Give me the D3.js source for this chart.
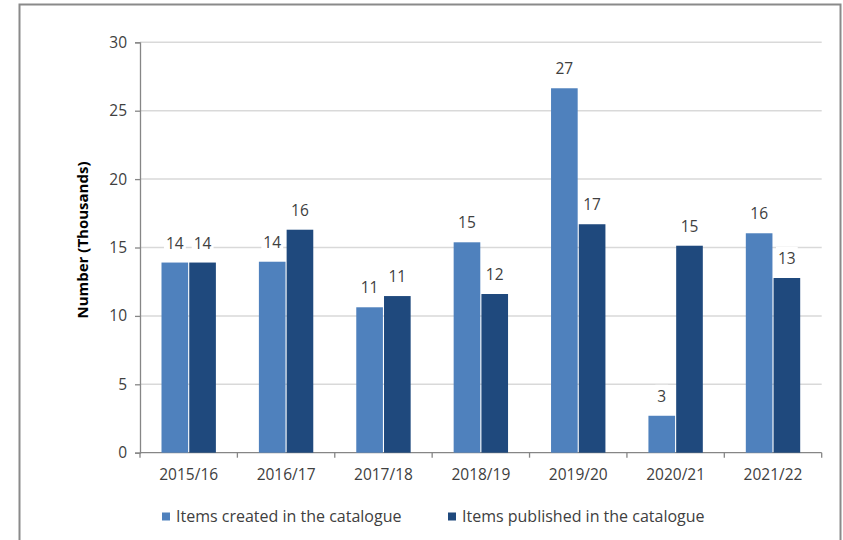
<!DOCTYPE html>
<html>
<head>
<meta charset="utf-8">
<script src="https://cdn.jsdelivr.net/npm/d3@7"></script>
<style>
  body { margin: 0; background: #fff; }
  text { font-family: 'Open Sans', sans-serif; fill: #404040; }
</style>
</head>
<body>
<div id="chart"></div>
<script>
const years = ['2015/16', '2016/17', '2017/18', '2018/19', '2019/20', '2020/21', '2021/22'];
const seriesNames = ['Items created in the catalogue', 'Items published in the catalogue'];
const created = [13.9, 13.96, 10.63, 15.38, 26.64, 2.7, 16.04];
const published = [13.9, 16.3, 11.45, 11.6, 16.7, 15.13, 12.77];
const yTicks = [0, 5, 10, 15, 20, 25, 30];
const colors = ['#4f81bd', '#1f497d'];

const width = 843;
const height = 540;
const plotLeft = 140;
const plotRight = 821.7;
const plotTop = 42.3;
const plotBottom = 452.7;

const svg = d3.select('#chart')
              .append('svg')
              .attr('width', width)
              .attr('height', height);

// outer frame
svg.append('rect')
   .attr('x', 19.5)
   .attr('y', 4.5)
   .attr('width', 821)
   .attr('height', 600)
   .attr('fill', 'none')
   .attr('stroke', '#8a8a8a')
   .attr('stroke-width', 2);

const xScale = d3.scaleBand()
                 .domain(years)
                 .range([plotLeft, plotRight]);

const x1 = d3.scaleBand()
             .domain(seriesNames)
             .range([21.5, xScale.bandwidth() - 21.5])
             .paddingInner(0.04);

const yScale = d3.scaleLinear()
                 .domain([0, 30])
                 .range([plotBottom, plotTop]);

// gridlines
svg.append('g')
   .selectAll('line')
   .data(yTicks.filter(d => d > 0))
   .enter()
   .append('line')
   .attr('x1', plotLeft)
   .attr('x2', plotRight)
   .attr('y1', d => yScale(d))
   .attr('y2', d => yScale(d))
   .attr('stroke', '#d9d9d9')
   .attr('stroke-width', 1.5);

const yAxis = d3.axisLeft(yScale)
                .tickValues(yTicks)
                .tickSize(5)
                .tickPadding(8);

svg.append('g')
   .attr('id', 'y-axis')
   .attr('transform', 'translate(' + plotLeft + ', 0)')
   .call(yAxis)
   .call(g => g.selectAll('line, path').attr('stroke', '#868686').attr('stroke-width', 1.3))
   .call(g => g.selectAll('text').style('font-size', '15.5px').style('font-family', 'Open Sans').style('fill', '#404040'));

// x axis with ticks at the category boundaries
const xAxisG = svg.append('g').attr('id', 'x-axis');
xAxisG.append('line')
      .attr('x1', plotLeft)
      .attr('x2', plotRight)
      .attr('y1', plotBottom)
      .attr('y2', plotBottom)
      .attr('stroke', '#868686')
      .attr('stroke-width', 1.3);
xAxisG.selectAll('.xtick')
      .data(years.concat(['end']))
      .enter()
      .append('line')
      .attr('x1', (d, i) => i < years.length ? xScale(d) : plotRight)
      .attr('x2', (d, i) => i < years.length ? xScale(d) : plotRight)
      .attr('y1', plotBottom)
      .attr('y2', plotBottom + 5)
      .attr('stroke', '#868686')
      .attr('stroke-width', 1.3);
xAxisG.selectAll('text')
      .data(years)
      .enter()
      .append('text')
      .attr('x', d => xScale(d) + xScale.bandwidth() / 2)
      .attr('y', 480)
      .attr('text-anchor', 'middle')
      .style('font-size', '15.5px')
      .text(d => d);

const rows = [];
years.forEach((yr, i) => {
  rows.push({ year: yr, series: seriesNames[0], value: created[i], color: colors[0] });
  rows.push({ year: yr, series: seriesNames[1], value: published[i], color: colors[1] });
});

svg.append('g')
   .selectAll('rect')
   .data(rows)
   .enter()
   .append('rect')
   .attr('x', d => xScale(d.year) + x1(d.series))
   .attr('y', d => yScale(d.value))
   .attr('width', x1.bandwidth())
   .attr('height', d => plotBottom - yScale(d.value))
   .attr('fill', d => d.color);

// data labels with white background
const labels = svg.append('g')
                  .selectAll('g')
                  .data(rows)
                  .enter()
                  .append('g');

labels.append('text')
      .attr('x', d => xScale(d.year) + x1(d.series) + x1.bandwidth() / 2)
      .attr('y', d => yScale(d.value) - 14)
      .attr('text-anchor', 'middle')
      .style('font-size', '15.5px')
      .text(d => d3.format('.0f')(d.value));

labels.each(function() {
  const g = d3.select(this);
  const bb = g.select('text').node().getBBox();
  g.insert('rect', 'text')
   .attr('x', bb.x - 2)
   .attr('y', bb.y)
   .attr('width', bb.width + 4)
   .attr('height', bb.height)
   .attr('fill', '#fff');
});

svg.append('text')
   .attr('transform', 'translate(88, 240) rotate(-90)')
   .attr('text-anchor', 'middle')
   .style('font-size', '15px')
   .style('font-weight', 'bold')
   .style('fill', '#000')
   .text('Number (Thousands)');

// legend
const legendX = [162, 448];
seriesNames.forEach((name, i) => {
  svg.append('rect')
     .attr('x', legendX[i])
     .attr('y', 512.5)
     .attr('width', 8)
     .attr('height', 8)
     .attr('fill', colors[i]);
  svg.append('text')
     .attr('x', legendX[i] + 14)
     .attr('y', 522)
     .style('font-size', '16px')
     .text(name);
});
</script>
</body>
</html>
